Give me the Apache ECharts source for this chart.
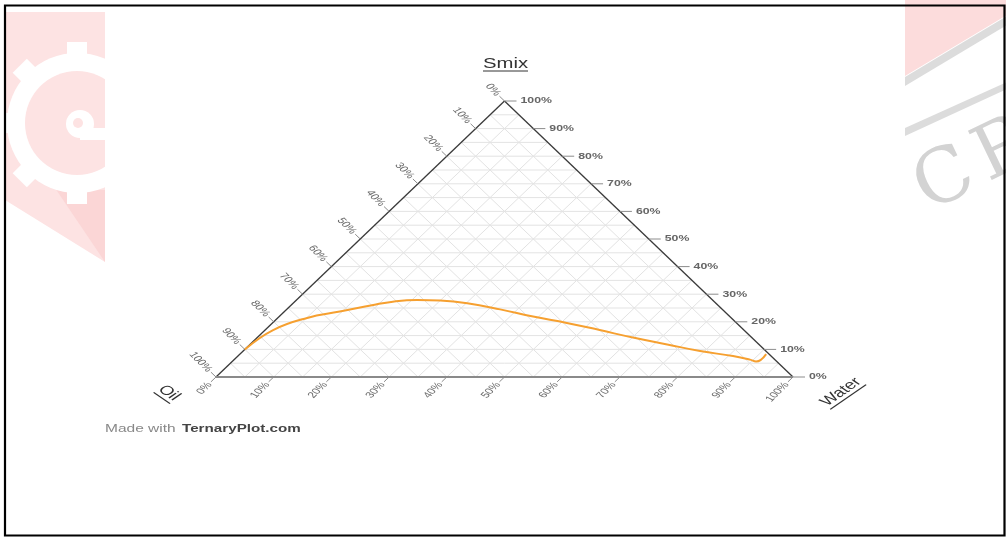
<!DOCTYPE html>
<html>
<head>
<meta charset="utf-8">
<script src="https://cdn.jsdelivr.net/npm/echarts@6/dist/echarts.min.js"></script>
<style>
html, body { margin: 0; padding: 0; background: #fff; }
#chart { width: 1007px; height: 538px; }
</style>
</head>
<body>
<div id="chart"></div>
<script>
// curve, in percent (Oil = 100 - Smix - Water)
var curveSmix  = [10, 17.0, 21.4, 23.7, 26.1, 27.3, 27.9, 27.7, 26.7, 24.5, 21.9, 19.6, 17.0, 14.3, 11.8, 9.4, 7.6, 6.3, 5.6, 8.3];
var curveWater = [0, 1.4, 5.1, 9.6, 14.2, 17.0, 20.9, 25.0, 30.2, 37.0, 44.0, 51.0, 58.0, 65.1, 72.3, 79.2, 85.8, 89.4, 90.8, 91.2];

var tickPct = [0, 10, 20, 30, 40, 50, 60, 70, 80, 90, 100];
var gridPct = [5, 10, 15, 20, 25, 30, 35, 40, 45, 50, 55, 60, 65, 70, 75, 80, 85, 90, 95];

var topName = 'Smix';
var leftName = 'Oil';
var rightName = 'Water';

var STRETCH = 1.45; // the picture is stretched sideways

// ternary (water, smix) -> cartesian data space
function ternXY(water, smix) {
  return [water + smix / 2, smix];
}

var curveData = curveWater.map(function (w, i) {
  return ternXY(w, curveSmix[i]);
});

var gridSegs = [];
gridPct.forEach(function (p) {
  gridSegs.push(ternXY(0, p).concat(ternXY(100 - p, p)));
  gridSegs.push(ternXY(p, 0).concat(ternXY(p, 100 - p)));
  gridSegs.push(ternXY(100 - p, 0).concat(ternXY(0, 100 - p)));
});
var sideSegs = [
  ternXY(0, 0).concat(ternXY(0, 100)),
  ternXY(0, 100).concat(ternXY(100, 0))
];
var baseSegs = [ternXY(0, 0).concat(ternXY(100, 0))];

function segRenderer(stroke, width) {
  return function (params, api) {
    var p1 = api.coord([api.value(0), api.value(1)]);
    var p2 = api.coord([api.value(2), api.value(3)]);
    return {
      type: 'line',
      shape: { x1: p1[0], y1: p1[1], x2: p2[0], y2: p2[1] },
      style: { stroke: stroke, lineWidth: width }
    };
  };
}

function tickRenderer(cfg) {
  return function (params, api) {
    var v = api.value(0);
    var e = cfg.edge(v);
    var p0 = api.coord(e);
    var p1 = api.coord([e[0] + cfg.dir[0], e[1] + cfg.dir[1]]);
    var dx = p1[0] - p0[0], dy = p1[1] - p0[1];
    var len = Math.sqrt(dx * dx + dy * dy);
    dx /= len; dy /= len;
    var tx = p0[0] + dx * cfg.len, ty = p0[1] + dy * cfg.len;
    return {
      type: 'group',
      children: [
        { type: 'line', shape: { x1: p0[0], y1: p0[1], x2: tx, y2: ty }, style: { stroke: '#8c8c8c', lineWidth: 1 } },
        {
          type: 'group', x: tx + dx * cfg.gap, y: ty + dy * cfg.gap, scaleX: STRETCH,
          children: [{
            type: 'text', rotation: cfg.rot,
            style: { text: v + '%', fill: cfg.color, font: cfg.font, align: cfg.align, verticalAlign: 'middle' }
          }]
        }
      ]
    };
  };
}

function tickSeries(cfg) {
  return {
    type: 'custom',
    renderItem: tickRenderer(cfg),
    encode: { x: 0, y: 1 },
    data: tickPct.map(function (v) { return [v, 0]; }),
    silent: true,
    z: 4
  };
}

// rotated + underlined axis title
function titleGraphic(text, cx, cy, rot, width) {
  return {
    type: 'group', x: cx, y: cy, scaleX: STRETCH, z: 10,
    children: [{
      type: 'group', rotation: rot, z: 10,
      children: [
        { type: 'text', z: 10, style: { text: text, font: '13px "Liberation Sans"', fill: '#333', align: 'center', verticalAlign: 'middle' } },
        { type: 'line', z: 10, shape: { x1: -width / 2, y1: 7, x2: width / 2, y2: 7 }, style: { stroke: '#333', lineWidth: 1 } }
      ]
    }]
  };
}

var chart = echarts.init(document.getElementById('chart'));

chart.setOption({
  animation: false,
  grid: { left: 216, top: 101, width: 577, height: 276 },
  xAxis: { type: 'value', min: 0, max: 100, show: false },
  yAxis: { type: 'value', min: 0, max: 100, show: false },
  graphic: [
    // watermark, left side
    { type: 'polygon', z: 0, shape: { points: [[5, 12], [105, 12], [105, 262], [5, 200]] }, style: { fill: '#fde3e3' } },
    { type: 'polygon', z: 0, shape: { points: [[55, 188], [105, 190], [105, 262]] }, style: { fill: '#fbd6d6' } },
    { type: 'circle', z: 0, shape: { cx: 77, cy: 123, r: 70 }, style: { fill: '#fff' } },
    { type: 'rect', z: 0, x: 77, y: 123, rotation: 0, shape: { x: -10, y: -81, width: 20, height: 162 }, style: { fill: '#fff' } },
    { type: 'rect', z: 0, x: 77, y: 123, rotation: Math.PI / 4, shape: { x: -10, y: -81, width: 20, height: 162 }, style: { fill: '#fff' } },
    { type: 'rect', z: 0, x: 77, y: 123, rotation: Math.PI / 2, shape: { x: -10, y: -81, width: 20, height: 162 }, style: { fill: '#fff' } },
    { type: 'rect', z: 0, x: 77, y: 123, rotation: -Math.PI / 4, shape: { x: -10, y: -81, width: 20, height: 162 }, style: { fill: '#fff' } },
    { type: 'circle', z: 0, shape: { cx: 77, cy: 123, r: 52 }, style: { fill: '#fde3e3' } },
    { type: 'circle', z: 0, shape: { cx: 80, cy: 124, r: 14 }, style: { fill: '#fff' } },
    { type: 'rect', z: 0, shape: { x: 80, y: 128, width: 30, height: 12 }, style: { fill: '#fff' } },
    { type: 'circle', z: 0, shape: { cx: 78, cy: 123, r: 5 }, style: { fill: '#fde3e3' } },
    // watermark, right side
    { type: 'polygon', z: 0, shape: { points: [[905, 0], [1007, 0], [1007, 15], [905, 76]] }, style: { fill: '#fcdcdc' } },
    { type: 'polygon', z: 0, shape: { points: [[905, 77], [1007, 16], [1007, 25], [905, 86]] }, style: { fill: '#dcdcdc' } },
    { type: 'polygon', z: 0, shape: { points: [[905, 128], [1007, 82], [1007, 89], [905, 136]] }, style: { fill: '#dcdcdc' } },
    { type: 'text', z: 0, x: 882, y: 212, rotation: 0.45, style: { text: 'J', font: '75px "DejaVu Serif"', fill: '#d3d3d3', align: 'center', verticalAlign: 'middle' } },
    { type: 'text', z: 0, x: 945, y: 182, rotation: 0.45, style: { text: 'C', font: '75px "DejaVu Serif"', fill: '#d3d3d3', align: 'center', verticalAlign: 'middle' } },
    { type: 'text', z: 0, x: 1005, y: 152, rotation: 0.45, style: { text: 'R', font: '75px "DejaVu Serif"', fill: '#d3d3d3', align: 'center', verticalAlign: 'middle' } },
    // white plot picture on top of the watermark
    { type: 'rect', z: 1, shape: { x: 105, y: 7, width: 800, height: 528 }, style: { fill: '#fff' } },
    { type: 'rect', z: 1, shape: { x: 1006, y: 0, width: 2, height: 538 }, style: { fill: '#fff' } },
    // page border
    { type: 'rect', z: 20, shape: { x: 5, y: 5.5, width: 999.5, height: 530 }, style: { fill: 'none', stroke: '#000', lineWidth: 2.2 } },
    // titles
    { type: 'text', z: 10, x: 505.5, y: 64, scaleX: STRETCH, style: { text: topName, font: '14px "Liberation Sans"', fill: '#333', align: 'center', verticalAlign: 'middle' } },
    { type: 'line', z: 10, shape: { x1: 483, y1: 71, x2: 528, y2: 71 }, style: { stroke: '#333', lineWidth: 1 } },
    titleGraphic(leftName, 169, 393, -Math.PI / 4, 16),
    titleGraphic(rightName, 841, 392, Math.PI / 4, 35),
    // footer
    { type: 'text', z: 10, x: 105, y: 429, scaleX: 1.55, style: { text: 'Made with', font: '10px "Liberation Sans"', fill: '#888', verticalAlign: 'middle' } },
    { type: 'text', z: 10, x: 182, y: 429, scaleX: 1.52, style: { text: 'TernaryPlot.com', font: 'bold 10px "Liberation Sans"', fill: '#444', verticalAlign: 'middle' } }
  ],
  series: [
    { type: 'custom', renderItem: segRenderer('#e3e3e3', 1), encode: { x: [0, 2], y: [1, 3] }, data: gridSegs, silent: true, z: 1 },
    { type: 'custom', renderItem: segRenderer('#3a3a3a', 1.3), encode: { x: [0, 2], y: [1, 3] }, data: sideSegs, silent: true, z: 3 },
    { type: 'custom', renderItem: segRenderer('#8a8a8a', 2), encode: { x: [0, 2], y: [1, 3] }, data: baseSegs, silent: true, z: 3 },
    // Smix: right side, horizontal labels
    tickSeries({
      edge: function (v) { return ternXY(100 - v, v); }, dir: [1, 0],
      len: 12, gap: 4, rot: 0, align: 'left', color: '#666', font: 'bold 8.5px "Liberation Sans"'
    }),
    // Oil: left side
    tickSeries({
      edge: function (v) { return ternXY(0, 100 - v); }, dir: [-0.5, 1],
      len: 7, gap: 2, rot: -0.96, align: 'right', color: '#6a6a6a', font: '8.5px "Liberation Sans"'
    }),
    // Water: bottom
    tickSeries({
      edge: function (v) { return ternXY(v, 0); }, dir: [-0.5, -1],
      len: 7, gap: 2, rot: 0.96, align: 'right', color: '#6a6a6a', font: '8.5px "Liberation Sans"'
    }),
    {
      type: 'line',
      data: curveData,
      smooth: 0.45,
      symbol: 'none',
      lineStyle: { color: '#f6a030', width: 2 },
      z: 5
    }
  ]
});
</script>
</body>
</html>
